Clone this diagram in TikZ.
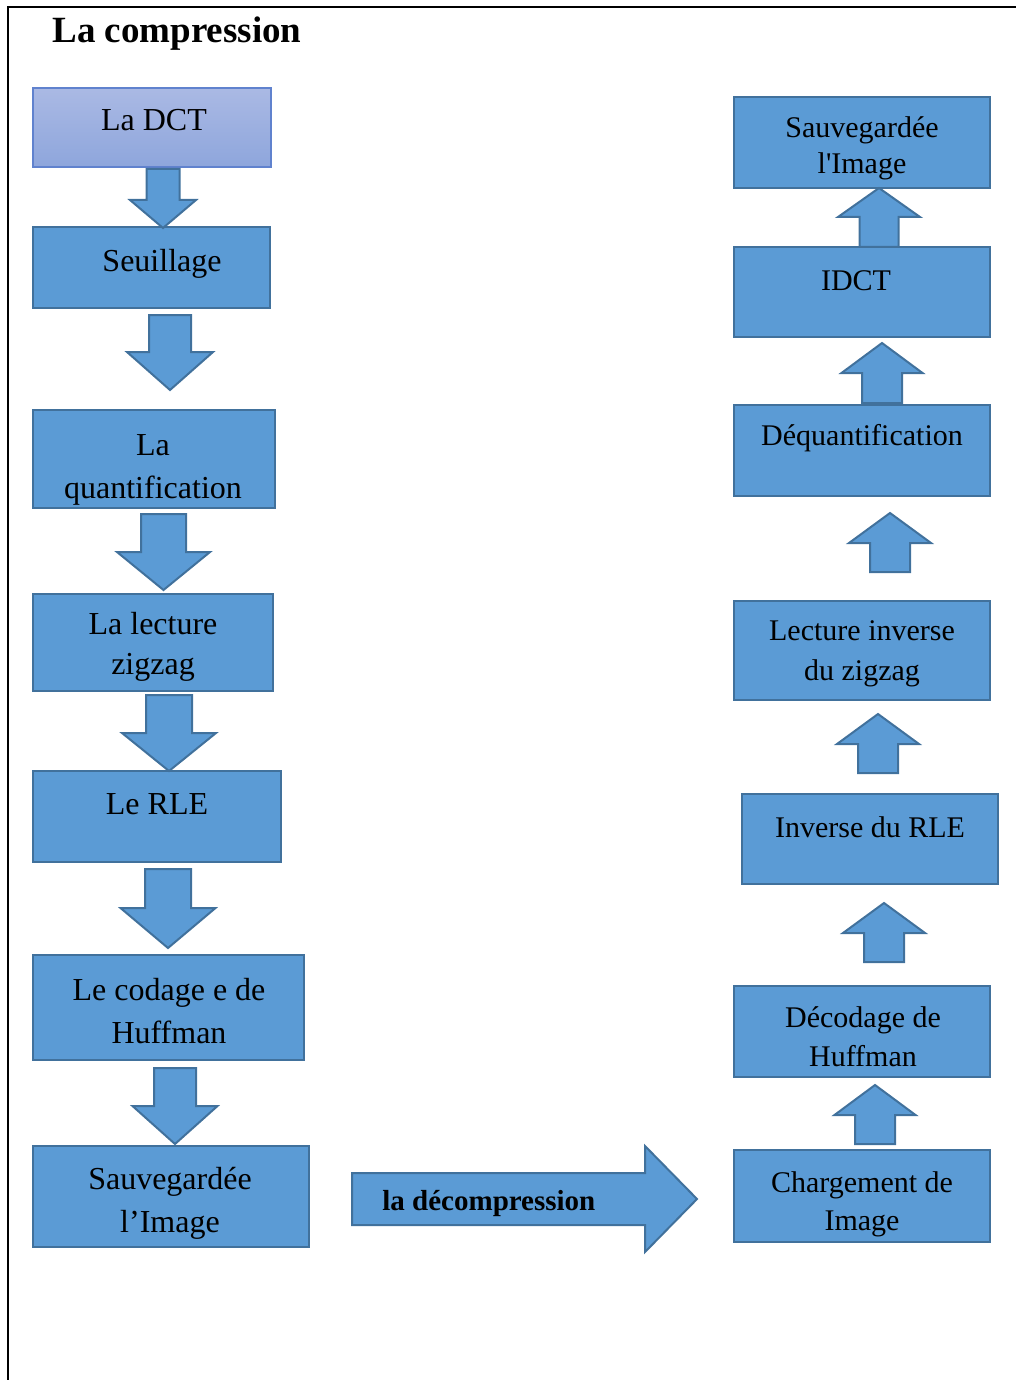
\documentclass[tikz,border=0pt]{standalone}
\usepackage{fontspec}
\setmainfont{Liberation Serif}
\usetikzlibrary{positioning,calc}
\definecolor{BoxBlue}{RGB}{91,155,213}
\definecolor{BoxEdge}{RGB}{65,113,156}
\definecolor{DctTop}{RGB}{170,185,228}
\definecolor{DctBot}{RGB}{142,166,220}
\definecolor{DctEdge}{RGB}{96,130,206}

% block arrow: tail, tip, half shaft, half head, head length
\newcommand{\blockarrow}[5]{%
  \coordinate (bt) at (#1);
  \coordinate (bp) at (#2);
  \coordinate (hb) at ($(bp)!#5!(bt)$);
  \draw[blk] ($(bt)!#3!90:(bp)$) -- ($(hb)!#3!90:(bp)$) -- ($(hb)!#4!90:(bp)$) -- (bp)
    -- ($(hb)!#4!-90:(bp)$) -- ($(hb)!#3!-90:(bp)$) -- ($(bt)!#3!-90:(bp)$) -- cycle;}

\begin{document}
\begin{tikzpicture}[
x=0.5pt, y=-0.5pt,
box/.style={draw=BoxEdge, fill=BoxBlue, line width=1pt, inner sep=0pt, outer sep=0pt, anchor=north west},
blk/.style={draw=BoxEdge, fill=BoxBlue, line width=1pt, line join=miter},
txtL/.style={font=\fontsize{16pt}{21.5pt}\selectfont, align=center, anchor=base, inner sep=0pt},
txtR/.style={font=\fontsize{15pt}{19.5pt}\selectfont, align=center, anchor=base, inner sep=0pt},
frame/.style={line width=0.8pt}
]
\useasboundingbox (0,0) rectangle (1016,1380);
\draw[frame] (8,1380) -- (8,7) -- (1016,7);

\node[font=\fontsize{18.5pt}{22pt}\selectfont\bfseries, anchor=base west, inner sep=0pt] (title) at (52,43) {La compression};

% compression column
\node[box, top color=DctTop, bottom color=DctBot, draw=DctEdge, minimum width=119pt, minimum height=39.5pt] (dct) at (33,88) {};
\node[box, minimum width=118.5pt, minimum height=40.5pt, below=30pt of dct.south west, anchor=north west] (seuil) {};
\node[box, minimum width=121pt, minimum height=49pt, below=51pt of seuil.south west, anchor=north west] (quant) {};
\node[box, minimum width=120pt, minimum height=48.5pt, below=43pt of quant.south west, anchor=north west] (zig) {};
\node[box, minimum width=124pt, minimum height=45.5pt, below=40pt of zig.south west, anchor=north west] (rle) {};
\node[box, minimum width=135.5pt, minimum height=52.5pt, below=46.5pt of rle.south west, anchor=north west] (huff) {};
\node[box, minimum width=138pt, minimum height=50.5pt, below=43pt of huff.south west, anchor=north west] (save) {};

% decompression column
\node[box, minimum width=128pt, minimum height=45.5pt] (rsave) at (734,97) {};
\node[box, minimum width=128pt, minimum height=45pt, below=29.5pt of rsave.south west, anchor=north west] (idct) {};
\node[box, minimum width=128pt, minimum height=45.5pt, below=34pt of idct.south west, anchor=north west] (dequant) {};
\node[box, minimum width=128pt, minimum height=49.5pt, below=52.5pt of dequant.south west, anchor=north west] (rzig) {};
\node[box, minimum width=128pt, minimum height=45pt, below right=47pt and 4pt of rzig.south west, anchor=north west] (irle) {};
\node[box, minimum width=128pt, minimum height=45.5pt, below left=51pt and 4pt of irle.south west, anchor=north west] (decod) {};
\node[box, minimum width=128pt, minimum height=46pt, below=36.5pt of decod.south west, anchor=north west] (load) {};

% arrows down
\blockarrow{[xshift=5.5pt,yshift=-1pt]dct.south}{[yshift=-0.5pt]bt |- seuil.north}{8.25pt}{16.5pt}{14pt}
\blockarrow{[xshift=9.25pt,yshift=-3.5pt]seuil.south}{[yshift=10pt]bt |- quant.north}{10.5pt}{21.5pt}{19pt}
\blockarrow{[xshift=4.75pt,yshift=-3pt]quant.south}{[yshift=2pt]bt |- zig.north}{11.25pt}{23.25pt}{19pt}
\blockarrow{[xshift=8pt,yshift=-2pt]zig.south}{bt |- rle.north}{11.5pt}{23.5pt}{19pt}
\blockarrow{[xshift=5.5pt,yshift=-3.5pt]rle.south}{[yshift=3.5pt]bt |- huff.north}{11.5pt}{23.75pt}{20pt}
\blockarrow{[xshift=3.25pt,yshift=-4pt]huff.south}{[yshift=1pt]bt |- save.north}{10.5pt}{21.25pt}{19pt}

% arrows up
\blockarrow{[xshift=8.5pt]idct.north}{bt |- rsave.south}{9.75pt}{20.5pt}{14.5pt}
\blockarrow{[xshift=10pt,yshift=1pt]dequant.north}{[yshift=-3pt]bt |- idct.south}{10pt}{20.25pt}{15pt}
\blockarrow{[xshift=14pt,yshift=14.5pt]rzig.north}{[yshift=-8.5pt]bt |- dequant.south}{10pt}{20.5pt}{15pt}
\blockarrow{[xshift=4pt,yshift=10.5pt]irle.north}{[yshift=-7pt]bt |- rzig.south}{10pt}{20.5pt}{15pt}
\blockarrow{[xshift=11pt,yshift=12pt]decod.north}{[yshift=-9.5pt]bt |- irle.south}{10pt}{20.5pt}{15pt}
\blockarrow{[xshift=6.5pt,yshift=3pt]load.north}{[yshift=-4pt]bt |- decod.south}{10pt}{20.25pt}{15pt}

% big arrow
\blockarrow{[xshift=21.5pt,yshift=-1.25pt]save.east}{[xshift=-18.5pt]bt -| load.west}{13pt}{26.5pt}{26pt}
\node[font=\fontsize{14.5pt}{17pt}\selectfont\bfseries, anchor=base west, inner sep=0pt] (tdecomp) at (382,1210) {la décompression};

% labels (two-line nodes sit on their last line)
\node[txtL] (tdct) at (154,131) {La DCT};
\node[txtL] (tseuil) at (162,271) {Seuillage};
\node[txtL] (tquant) at (153,498) {La\\quantification};
\node[txtL, font=\fontsize{16pt}{20pt}\selectfont] (tzig) at (153,674) {La lecture\\zigzag};
\node[txtL] (trle) at (157,814) {Le RLE};
\node[txtL] (thuff) at (169,1043) {Le codage e de\\Huffman};
\node[txtL] (tsave) at (170,1232) {Sauvegardée\\l’Image};

\node[txtR, font=\fontsize{15pt}{18pt}\selectfont] (trsave) at (862,174) {Sauvegardée\\l\textquotesingle Image};
\node[txtR] (tidct) at (856,290) {IDCT};
\node[txtR] (tdeq) at (862,445) {Déquantification};
\node[txtR, font=\fontsize{15pt}{20pt}\selectfont] (trzig) at (862,680) {Lecture inverse\\du zigzag};
\node[txtR] (tirle) at (870,837) {Inverse du RLE};
\node[txtR] (tdecod) at (863,1066) {Décodage de\\Huffman};
\node[txtR, font=\fontsize{15pt}{19pt}\selectfont] (tload) at (862,1230) {Chargement de\\Image};
\end{tikzpicture}
\end{document}
